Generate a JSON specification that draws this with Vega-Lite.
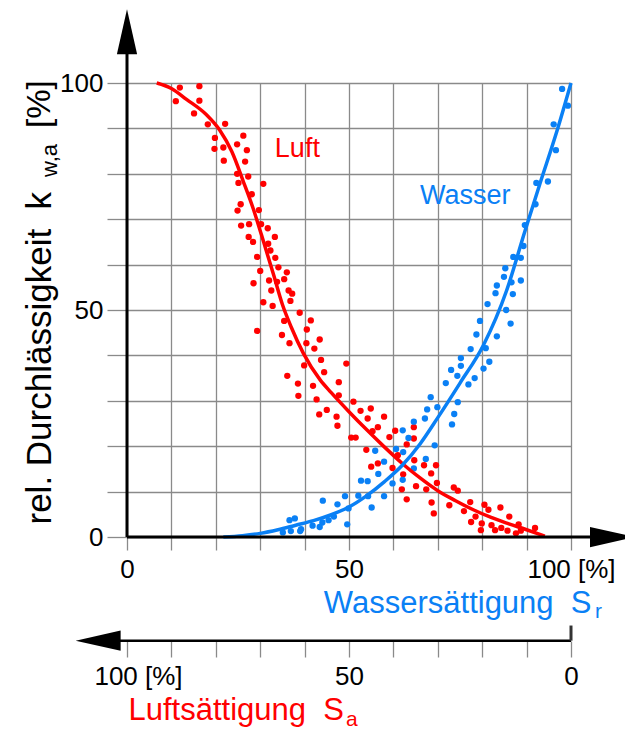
{
  "$schema": "https://vega.github.io/schema/vega-lite/v6.json",
  "width": 444,
  "height": 454,
  "autosize": {"type": "none"},
  "padding": {"left": 127, "top": 83, "right": 54, "bottom": 194},
  "background": "white",
  "config": {
    "font": "Liberation Sans",
    "view": {"stroke": null},
    "axis": {
      "labelFont": "Liberation Sans",
      "titleFont": "Liberation Sans",
      "titleFontWeight": "normal",
      "labelColor": "black",
      "labelFontSize": 26,
      "titleFontSize": 31,
      "gridColor": "#8a8a8a",
      "gridWidth": 1.3,
      "gridOpacity": 1,
      "tickColor": "#8a8a8a",
      "tickWidth": 1.3,
      "domain": false,
      "labelFlush": false,
      "labelOverlap": false
    }
  },
  "datasets": {
    "luft": [
      {"Sw": 11.9, "k": 99.0}, {"Sw": 16.3, "k": 99.3}, {"Sw": 11.0, "k": 96.0}, {"Sw": 16.3, "k": 96.1},
      {"Sw": 15.1, "k": 93.3}, {"Sw": 18.2, "k": 90.9}, {"Sw": 22.1, "k": 91.0}, {"Sw": 19.8, "k": 87.9},
      {"Sw": 26.2, "k": 88.4}, {"Sw": 24.8, "k": 86.5}, {"Sw": 21.7, "k": 85.8}, {"Sw": 19.7, "k": 85.5},
      {"Sw": 27.0, "k": 85.2}, {"Sw": 21.8, "k": 82.9}, {"Sw": 26.6, "k": 82.7}, {"Sw": 24.8, "k": 80.0},
      {"Sw": 27.3, "k": 79.4}, {"Sw": 25.1, "k": 78.0}, {"Sw": 30.7, "k": 77.8}, {"Sw": 28.1, "k": 75.5},
      {"Sw": 25.6, "k": 73.3}, {"Sw": 24.9, "k": 71.9}, {"Sw": 29.7, "k": 72.0}, {"Sw": 27.5, "k": 68.9},
      {"Sw": 25.7, "k": 68.6}, {"Sw": 30.2, "k": 68.9}, {"Sw": 31.7, "k": 68.0}, {"Sw": 33.3, "k": 66.1},
      {"Sw": 27.4, "k": 66.1}, {"Sw": 28.4, "k": 65.0}, {"Sw": 31.8, "k": 64.6}, {"Sw": 32.3, "k": 63.1},
      {"Sw": 29.3, "k": 61.7}, {"Sw": 33.4, "k": 61.5}, {"Sw": 34.1, "k": 59.4}, {"Sw": 30.0, "k": 58.6},
      {"Sw": 36.0, "k": 58.3}, {"Sw": 28.5, "k": 55.9}, {"Sw": 32.0, "k": 56.5}, {"Sw": 33.8, "k": 56.2},
      {"Sw": 35.4, "k": 56.8}, {"Sw": 32.5, "k": 54.3}, {"Sw": 36.4, "k": 54.3}, {"Sw": 37.2, "k": 53.6},
      {"Sw": 30.7, "k": 51.7}, {"Sw": 32.8, "k": 50.9}, {"Sw": 36.8, "k": 52.0}, {"Sw": 38.9, "k": 49.4},
      {"Sw": 41.4, "k": 47.7}, {"Sw": 35.4, "k": 47.6}, {"Sw": 29.3, "k": 45.4}, {"Sw": 40.5, "k": 45.7},
      {"Sw": 34.9, "k": 44.5}, {"Sw": 36.6, "k": 42.7}, {"Sw": 40.4, "k": 42.7}, {"Sw": 43.4, "k": 43.5},
      {"Sw": 42.2, "k": 41.5}, {"Sw": 43.7, "k": 39.0}, {"Sw": 39.9, "k": 37.8}, {"Sw": 49.4, "k": 38.2},
      {"Sw": 44.4, "k": 36.3}, {"Sw": 36.1, "k": 35.5}, {"Sw": 38.5, "k": 33.8}, {"Sw": 41.9, "k": 33.3},
      {"Sw": 47.7, "k": 34.1}, {"Sw": 38.6, "k": 31.1}, {"Sw": 42.7, "k": 30.3}, {"Sw": 47.7, "k": 31.2},
      {"Sw": 51.0, "k": 29.8}, {"Sw": 45.0, "k": 28.0}, {"Sw": 43.3, "k": 27.0}, {"Sw": 47.2, "k": 26.5},
      {"Sw": 52.6, "k": 27.8}, {"Sw": 54.9, "k": 28.3}, {"Sw": 54.2, "k": 26.1}, {"Sw": 57.9, "k": 26.5},
      {"Sw": 47.4, "k": 24.5}, {"Sw": 56.5, "k": 24.2}, {"Sw": 55.3, "k": 23.3}, {"Sw": 50.5, "k": 21.9},
      {"Sw": 51.5, "k": 21.9}, {"Sw": 60.4, "k": 23.4}, {"Sw": 59.1, "k": 22.0}, {"Sw": 64.6, "k": 24.2},
      {"Sw": 63.0, "k": 20.4}, {"Sw": 64.6, "k": 21.7}, {"Sw": 53.9, "k": 19.2}, {"Sw": 61.0, "k": 18.0},
      {"Sw": 56.5, "k": 16.2}, {"Sw": 55.0, "k": 15.5}, {"Sw": 59.8, "k": 15.2}, {"Sw": 64.7, "k": 16.9},
      {"Sw": 62.2, "k": 13.8}, {"Sw": 66.9, "k": 15.8}, {"Sw": 69.6, "k": 15.8}, {"Sw": 68.5, "k": 14.0},
      {"Sw": 61.9, "k": 10.5}, {"Sw": 65.1, "k": 11.2}, {"Sw": 67.4, "k": 10.5}, {"Sw": 69.8, "k": 11.9},
      {"Sw": 63.0, "k": 8.3}, {"Sw": 68.6, "k": 7.6}, {"Sw": 69.1, "k": 5.2}, {"Sw": 73.6, "k": 10.9},
      {"Sw": 74.5, "k": 10.2}, {"Sw": 72.6, "k": 7.0}, {"Sw": 77.3, "k": 7.7}, {"Sw": 75.9, "k": 5.7},
      {"Sw": 80.5, "k": 7.1}, {"Sw": 81.4, "k": 6.0}, {"Sw": 78.5, "k": 4.5}, {"Sw": 77.5, "k": 3.3},
      {"Sw": 84.1, "k": 6.5}, {"Sw": 86.1, "k": 4.5}, {"Sw": 79.9, "k": 3.0}, {"Sw": 82.1, "k": 2.6},
      {"Sw": 84.3, "k": 2.0}, {"Sw": 79.7, "k": 1.5}, {"Sw": 82.9, "k": 1.5}, {"Sw": 85.7, "k": 1.4},
      {"Sw": 88.2, "k": 2.8}, {"Sw": 88.7, "k": 1.4}, {"Sw": 87.6, "k": 0.8}, {"Sw": 91.9, "k": 2.0}
    ],
    "wasser": [
      {"Sw": 98.0, "k": 98.7}, {"Sw": 99.3, "k": 95.0}, {"Sw": 96.1, "k": 90.9}, {"Sw": 96.6, "k": 85.2},
      {"Sw": 92.2, "k": 78.0}, {"Sw": 94.8, "k": 78.3}, {"Sw": 92.0, "k": 73.3}, {"Sw": 89.6, "k": 68.7},
      {"Sw": 89.3, "k": 64.1}, {"Sw": 87.0, "k": 61.7}, {"Sw": 88.7, "k": 61.5}, {"Sw": 85.2, "k": 59.2},
      {"Sw": 84.9, "k": 57.3}, {"Sw": 86.6, "k": 56.1}, {"Sw": 88.7, "k": 56.5}, {"Sw": 83.3, "k": 55.4},
      {"Sw": 83.0, "k": 53.7}, {"Sw": 86.9, "k": 53.5}, {"Sw": 81.2, "k": 51.3}, {"Sw": 85.4, "k": 50.0},
      {"Sw": 86.4, "k": 47.0}, {"Sw": 79.5, "k": 47.6}, {"Sw": 78.7, "k": 44.6}, {"Sw": 83.3, "k": 44.2},
      {"Sw": 77.4, "k": 41.4}, {"Sw": 80.8, "k": 41.6}, {"Sw": 75.2, "k": 39.4}, {"Sw": 81.6, "k": 38.6},
      {"Sw": 73.0, "k": 36.8}, {"Sw": 75.2, "k": 37.7}, {"Sw": 80.3, "k": 37.1}, {"Sw": 74.4, "k": 35.5},
      {"Sw": 78.3, "k": 35.0}, {"Sw": 71.8, "k": 33.9}, {"Sw": 76.9, "k": 33.6}, {"Sw": 68.4, "k": 30.8},
      {"Sw": 67.6, "k": 28.1}, {"Sw": 69.9, "k": 28.6}, {"Sw": 74.5, "k": 29.7}, {"Sw": 67.1, "k": 26.1},
      {"Sw": 73.7, "k": 27.1}, {"Sw": 73.2, "k": 24.8}, {"Sw": 64.6, "k": 25.4}, {"Sw": 62.1, "k": 23.5},
      {"Sw": 63.4, "k": 21.8}, {"Sw": 69.3, "k": 20.2}, {"Sw": 55.9, "k": 19.0}, {"Sw": 60.6, "k": 19.4},
      {"Sw": 62.2, "k": 18.7}, {"Sw": 67.3, "k": 17.2}, {"Sw": 64.6, "k": 15.1}, {"Sw": 57.9, "k": 16.6},
      {"Sw": 56.6, "k": 13.9}, {"Sw": 52.7, "k": 12.4}, {"Sw": 54.2, "k": 12.3}, {"Sw": 62.1, "k": 12.6},
      {"Sw": 59.8, "k": 11.8}, {"Sw": 44.1, "k": 8.0}, {"Sw": 49.1, "k": 9.0}, {"Sw": 52.1, "k": 9.1},
      {"Sw": 54.3, "k": 9.0}, {"Sw": 57.9, "k": 9.0}, {"Sw": 55.1, "k": 6.5}, {"Sw": 49.9, "k": 6.3},
      {"Sw": 47.4, "k": 7.2}, {"Sw": 46.6, "k": 4.5}, {"Sw": 49.6, "k": 2.8}, {"Sw": 45.4, "k": 3.7},
      {"Sw": 44.0, "k": 3.2}, {"Sw": 41.8, "k": 2.5}, {"Sw": 43.4, "k": 2.2}, {"Sw": 37.8, "k": 4.1},
      {"Sw": 36.6, "k": 3.7}, {"Sw": 35.1, "k": 1.0}, {"Sw": 36.9, "k": 1.3}, {"Sw": 39.0, "k": 1.3},
      {"Sw": 39.2, "k": 1.7}
    ],
    "luftKurve": [
      {"Sw": 6.7, "k": 100}, {"Sw": 10, "k": 98.8}, {"Sw": 13.4, "k": 96.4}, {"Sw": 17.9, "k": 93.0},
      {"Sw": 20.9, "k": 89.6}, {"Sw": 23.6, "k": 84.9}, {"Sw": 26.2, "k": 78.3}, {"Sw": 28.4, "k": 72.4},
      {"Sw": 30.3, "k": 66.5}, {"Sw": 33, "k": 57.8}, {"Sw": 35, "k": 51.2}, {"Sw": 37, "k": 46.2},
      {"Sw": 39.7, "k": 40.5}, {"Sw": 43.5, "k": 34.6}, {"Sw": 46, "k": 31.8}, {"Sw": 50, "k": 27.6},
      {"Sw": 54, "k": 23.6}, {"Sw": 58, "k": 19.8}, {"Sw": 62, "k": 16.2}, {"Sw": 66, "k": 13.0},
      {"Sw": 70, "k": 10.2}, {"Sw": 74, "k": 8.0}, {"Sw": 78, "k": 6.0}, {"Sw": 82, "k": 4.3},
      {"Sw": 86, "k": 2.9}, {"Sw": 90, "k": 1.6}, {"Sw": 94.1, "k": 0.2}
    ],
    "wasserKurve": [
      {"Sw": 21.7, "k": 0}, {"Sw": 26, "k": 0.3}, {"Sw": 30, "k": 0.8}, {"Sw": 34, "k": 1.6},
      {"Sw": 38, "k": 2.6}, {"Sw": 42, "k": 3.6}, {"Sw": 46, "k": 4.9}, {"Sw": 50, "k": 6.6},
      {"Sw": 54, "k": 9.1}, {"Sw": 58, "k": 12.2}, {"Sw": 62, "k": 15.8}, {"Sw": 66, "k": 20.5},
      {"Sw": 70, "k": 26.3}, {"Sw": 75, "k": 33.9}, {"Sw": 80.3, "k": 42.3}, {"Sw": 85.5, "k": 54.3},
      {"Sw": 89.6, "k": 67.3}, {"Sw": 93, "k": 77.8}, {"Sw": 96.8, "k": 89.3}, {"Sw": 100, "k": 100}
    ]
  },
  "layer": [
    {
      "layer": [
        {
          "data": {"name": "luft"},
          "mark": {"type": "point", "filled": true, "size": 40, "opacity": 1, "color": "#ff0000"},
          "encoding": {
            "x": {
              "field": "Sw", "type": "quantitative",
              "scale": {"domain": [0, 100], "nice": false, "zero": false},
              "axis": {
                "orient": "bottom",
                "values": [0, 10, 20, 30, 40, 50, 60, 70, 80, 90, 100],
                "labelExpr": "datum.value == 0 ? '0' : datum.value == 50 ? '50' : datum.value == 100 ? '100 [%]' : ''",
                "grid": true,
                "tickSize": 13,
                "labelPadding": 6,
                "title": "Wassersättigung\u00a0\u00a0S",
                "titleColor": "#0a80f5",
                "titleAlign": "right",
                "titleBaseline": "alphabetic",
                "titleX": 464,
                "titleY": 75
              }
            },
            "y": {
              "field": "k", "type": "quantitative",
              "scale": {"domain": [0, 100], "nice": false, "zero": false},
              "axis": {
                "values": [0, 10, 20, 30, 40, 50, 60, 70, 80, 90, 100],
                "labelExpr": "datum.value == 0 ? '0' : datum.value == 50 ? '50' : datum.value == 100 ? '100' : ''",
                "grid": true,
                "tickSize": 20,
                "labelPadding": 4,
                "title": "rel. Durchlässigkeit\u00a0\u00a0k",
                "titleColor": "black",
                "titleFontSize": 35,
                "titleAngle": 270,
                "titleAlign": "left",
                "titleBaseline": "alphabetic",
                "titleX": -77,
                "titleY": 441
              }
            }
          }
        },
        {
          "data": {"name": "wasser"},
          "mark": {"type": "point", "filled": true, "size": 40, "opacity": 1, "color": "#0a80f5"},
          "encoding": {
            "x": {"field": "Sw", "type": "quantitative"},
            "y": {"field": "k", "type": "quantitative"}
          }
        },
        {
          "data": {"name": "luftKurve"},
          "mark": {"type": "line", "interpolate": "monotone", "strokeWidth": 3.5, "color": "#ff0000"},
          "encoding": {
            "x": {"field": "Sw", "type": "quantitative"},
            "y": {"field": "k", "type": "quantitative"}
          }
        },
        {
          "data": {"name": "wasserKurve"},
          "mark": {"type": "line", "interpolate": "monotone", "strokeWidth": 3.5, "color": "#0a80f5"},
          "encoding": {
            "x": {"field": "Sw", "type": "quantitative"},
            "y": {"field": "k", "type": "quantitative"}
          }
        },
        {
          "data": {"values": [{}]},
          "mark": {"type": "rule", "color": "black", "strokeWidth": 3},
          "encoding": {
            "x": {"datum": 0, "type": "quantitative"},
            "y": {"datum": 0, "type": "quantitative"},
            "y2": {"datum": 108}
          }
        },
        {
          "data": {"values": [{}]},
          "mark": {"type": "point", "filled": true, "opacity": 1, "color": "black", "strokeWidth": 0, "size": 2025, "shape": "M0,-1L0.45,1L-0.45,1Z"},
          "encoding": {
            "x": {"datum": 0, "type": "quantitative"},
            "y": {"datum": 111.3, "type": "quantitative"}
          }
        },
        {
          "data": {"values": [{}]},
          "mark": {"type": "rule", "color": "black", "strokeWidth": 3},
          "encoding": {
            "x": {"datum": 0, "type": "quantitative"},
            "x2": {"datum": 105.5},
            "y": {"datum": 0, "type": "quantitative"}
          }
        },
        {
          "data": {"values": [{}]},
          "mark": {"type": "point", "filled": true, "opacity": 1, "color": "black", "strokeWidth": 0, "size": 2025, "shape": "M1,0L-1,0.45L-1,-0.45Z"},
          "encoding": {
            "x": {"datum": 109.35, "type": "quantitative"},
            "y": {"datum": 0, "type": "quantitative"}
          }
        },
        {
          "data": {"values": [{}]},
          "mark": {"type": "text", "text": "Luft", "color": "#ff0000", "fontSize": 27, "align": "left", "baseline": "alphabetic"},
          "encoding": {
            "x": {"datum": 33.3, "type": "quantitative"},
            "y": {"datum": 83.7, "type": "quantitative"}
          }
        },
        {
          "data": {"values": [{}]},
          "mark": {"type": "text", "text": "Wasser", "color": "#0a80f5", "fontSize": 27, "align": "left", "baseline": "alphabetic"},
          "encoding": {
            "x": {"datum": 66.0, "type": "quantitative"},
            "y": {"datum": 73.3, "type": "quantitative"}
          }
        },
        {
          "data": {"values": [{}]},
          "mark": {"type": "text", "text": "r", "color": "#0a80f5", "fontSize": 21, "align": "left", "baseline": "alphabetic"},
          "encoding": {
            "x": {"datum": 105.4, "type": "quantitative"},
            "y": {"datum": -17.84, "type": "quantitative"}
          }
        },
        {
          "data": {"values": [{}]},
          "mark": {"type": "text", "text": "a", "color": "#ff0000", "fontSize": 21, "align": "left", "baseline": "alphabetic"},
          "encoding": {
            "x": {"datum": 49.3, "type": "quantitative"},
            "y": {"datum": -41.7, "type": "quantitative"}
          }
        },
        {
          "data": {"values": [{}]},
          "mark": {"type": "text", "text": "w,a", "color": "black", "fontSize": 22, "angle": 270, "align": "left", "baseline": "alphabetic"},
          "encoding": {
            "x": {"datum": -15.8, "type": "quantitative"},
            "y": {"datum": 79.3, "type": "quantitative"}
          }
        },
        {
          "data": {"values": [{}]},
          "mark": {"type": "text", "text": "[%]", "color": "black", "fontSize": 33, "angle": 270, "align": "left", "baseline": "alphabetic"},
          "encoding": {
            "x": {"datum": -17.3, "type": "quantitative"},
            "y": {"datum": 90.1, "type": "quantitative"}
          }
        }
      ]
    },
    {
      "layer": [
        {
          "data": {"values": [{}]},
          "mark": {"type": "rule", "color": "black", "strokeWidth": 2.5},
          "encoding": {
            "x": {
              "datum": 0, "type": "quantitative",
              "scale": {"domain": [0, 100], "nice": false, "zero": false, "reverse": true},
              "axis": {
                "orient": "bottom",
                "offset": 104,
                "values": [0, 10, 20, 30, 40, 50, 60, 70, 80, 90, 100],
                "labelExpr": "datum.value == 0 ? '0' : datum.value == 50 ? '50' : datum.value == 100 ? '100 [%]' : ''",
                "labelOffset": {"condition": {"test": "datum.value == 100", "value": 11}, "value": 0},
                "grid": false,
                "tickSize": 16,
                "labelPadding": 6,
                "title": "Luftsättigung\u00a0\u00a0S",
                "titleColor": "#ff0000",
                "titleAlign": "left",
                "titleBaseline": "alphabetic",
                "titleX": 1,
                "titleY": 78
              }
            },
            "x2": {"datum": 104},
            "y": {"datum": -22.84, "type": "quantitative"}
          }
        },
        {
          "data": {"values": [{}]},
          "mark": {"type": "point", "filled": true, "opacity": 1, "color": "black", "strokeWidth": 0, "size": 2025, "shape": "M-1,0L1,-0.45L1,0.45Z"},
          "encoding": {
            "x": {"datum": 106.5, "type": "quantitative"},
            "y": {"datum": -22.84, "type": "quantitative"}
          }
        },
        {
          "data": {"values": [{}]},
          "mark": {"type": "rule", "color": "#333333", "strokeWidth": 3},
          "encoding": {
            "x": {"datum": 0, "type": "quantitative"},
            "y": {"datum": -22.84, "type": "quantitative"},
            "y2": {"datum": -19.5}
          }
        }
      ]
    }
  ],
  "resolve": {"scale": {"x": "independent"}, "axis": {"x": "independent"}}
}
